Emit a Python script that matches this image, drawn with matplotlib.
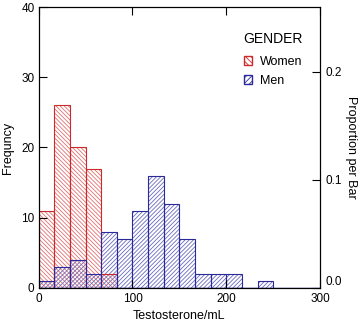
import numpy as np
import matplotlib
matplotlib.use("Agg")
import matplotlib.pyplot as plt
import matplotlib.transforms as mtransforms
from matplotlib.patches import Patch

plt.rcParams['font.family'] = ['Liberation Sans', 'DejaVu Sans']
plt.rcParams['hatch.linewidth'] = 0.6

# histogram counts per bar, bars start at 0 and are 300/18 wide
bin_width = 300 / 18
women_counts = [11, 26, 20, 17, 2]
men_counts = [1, 3, 4, 2, 8, 7, 11, 16, 12, 7, 2, 2, 2, 0, 1]
total = sum(women_counts) + sum(men_counts)

red = '#cc2a2a'
red_hatch = '#e27070'
blue = '#2a2a9a'
blue_hatch = '#6a6ac0'

fig = plt.figure(figsize=(3.61, 3.22), dpi=100)
ax = fig.add_axes([0.107, 0.106, 0.78, 0.872])

women_left = np.arange(len(women_counts)) * bin_width
men_left = np.arange(len(men_counts)) * bin_width

# hatch first (lighter colour), then outlines on top
ax.bar(women_left, women_counts, width=bin_width, align='edge',
       facecolor='none', edgecolor=red_hatch, hatch='\\' * 8, linewidth=0)
ax.bar(men_left, men_counts, width=bin_width, align='edge',
       facecolor='none', edgecolor=blue_hatch, hatch='/' * 8, linewidth=0)
ax.bar(women_left, women_counts, width=bin_width, align='edge',
       facecolor='none', edgecolor=red, linewidth=0.8)
ax.bar(men_left, men_counts, width=bin_width, align='edge',
       facecolor='none', edgecolor=blue, linewidth=0.8)
ax.axhline(0, color=blue, lw=1)

ax.set_xlim(0, 300)
ax.set_ylim(0, 40)
ax.set_xticks([0, 100, 200, 300])
ax.set_yticks([0, 10, 20, 30, 40])
ax.tick_params(direction='in', length=6, labelsize=8.5, top=True, pad=3)
ax.tick_params(axis='x', pad=4)
ax.set_xlabel('Testosterone/mL', fontsize=9, labelpad=3)
ax.set_ylabel('Frequncy', fontsize=9, labelpad=5)

ax2 = ax.twinx()
ax2.set_ylim(0, 40 / total)
ax2.set_yticks([0.0, 0.1, 0.2])
ax2.set_yticklabels(['0.0', '0.1', '0.2'])
ax2.tick_params(direction='in', length=6, labelsize=8.5, pad=3.5)
ax2.set_ylabel('Proportion per Bar', fontsize=9, rotation=-90, labelpad=11)
# nudge the 0.0 label up so it clears the 300 tick label
lab0 = ax2.get_yticklabels()[0]
lab0.set_transform(lab0.get_transform() +
                   mtransforms.ScaledTranslation(0, 7 / 100, fig.dpi_scale_trans))

handles = [Patch(facecolor='none', edgecolor=red, hatch='\\' * 6, label='Women'),
           Patch(facecolor='none', edgecolor=blue, hatch='/' * 6, label='Men')]
leg = ax.legend(handles=handles, title='GENDER', loc='upper left',
                bbox_to_anchor=(232 / 361, 1 - 21 / 322),
                bbox_transform=fig.transFigure, frameon=False, fontsize=9,
                title_fontsize=10, handlelength=0.7, handleheight=0.7,
                handletextpad=0.6, labelspacing=0.55)
# a little more room between the title and the entries
leg._legend_box.sep = 7

fig.savefig('out.png', dpi=100)
